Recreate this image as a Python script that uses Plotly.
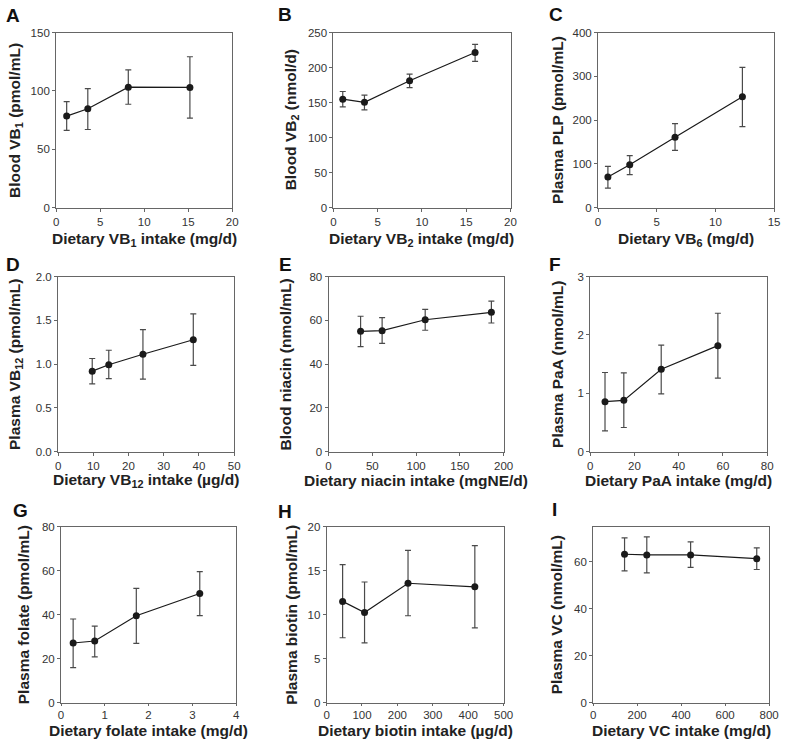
import plotly.graph_objects as go

# ---------------- data ----------------
a_x = [1.2, 3.6, 8.2, 15.2]
a_y = [78.5, 84.7, 103.2, 103.0]
a_hi = [90.8, 102.0, 118.0, 129.3]
a_lo = [66.2, 67.0, 88.6, 76.8]

b_x = [1.05, 3.5, 8.6, 16.0]
b_y = [155.0, 150.5, 181.3, 221.5]
b_hi = [165.9, 160.7, 190.7, 233.2]
b_lo = [143.9, 139.7, 171.5, 208.9]

c_x = [0.84, 2.7, 6.56, 12.3]
c_y = [70.3, 97.9, 160.7, 253.4]
c_hi = [94.2, 118.9, 192.1, 320.7]
c_lo = [44.9, 75.5, 130.8, 185.4]

d_x = [9.7, 14.4, 24.1, 38.4]
d_y = [0.92, 0.994, 1.113, 1.279]
d_hi = [1.065, 1.159, 1.394, 1.574]
d_lo = [0.774, 0.834, 0.83, 0.987]

e_x = [36.6, 61.2, 110.4, 186.0]
e_y = [55.0, 55.3, 60.3, 63.7]
e_hi = [61.9, 61.3, 65.0, 68.8]
e_lo = [48.0, 49.5, 55.5, 58.8]

f_x = [6.7, 15.2, 32.1, 57.7]
f_y = [0.858, 0.88, 1.413, 1.817]
f_hi = [1.357, 1.35, 1.828, 2.372]
f_lo = [0.359, 0.415, 0.993, 1.262]

g_x = [0.277, 0.77, 1.72, 3.17]
g_y = [27.1, 28.0, 39.5, 49.6]
g_hi = [38.0, 34.8, 51.9, 59.5]
g_lo = [15.9, 20.8, 26.9, 39.5]

h_x = [45.3, 107.2, 230.0, 418.7]
h_y = [11.5, 10.24, 13.56, 13.15]
h_hi = [15.68, 13.7, 17.3, 17.84]
h_lo = [7.37, 6.8, 9.87, 8.49]

i_x = [142.8, 243.9, 443.0, 743.5]
i_y = [63.2, 62.9, 62.9, 61.3]
i_hi = [70.2, 70.6, 68.5, 65.9]
i_lo = [56.1, 55.3, 57.6, 56.7]

panel_letters = ["A", "B", "C", "D", "E", "F", "G", "H", "I"]
x_titles = [
    "Dietary VB<sub>1</sub> intake (mg/d)",
    "Dietary VB<sub>2</sub> intake (mg/d)",
    "Dietary VB<sub>6</sub> (mg/d)",
    "Dietary VB<sub>12</sub> intake (µg/d)",
    "Dietary niacin intake (mgNE/d)",
    "Dietary PaA intake (mg/d)",
    "Dietary folate intake (mg/d)",
    "Dietary biotin intake (µg/d)",
    "Dietary VC intake (mg/d)",
]
y_titles = [
    "Blood VB<sub>1</sub> (pmol/mL)",
    "Blood VB<sub>2</sub> (nmol/d)",
    "Plasma PLP (pmol/mL)",
    "Plasma VB<sub>12</sub> (pmol/mL)",
    "Blood niacin (nmol/mL)",
    "Plasma PaA (nmol/mL)",
    "Plasma folate (pmol/mL)",
    "Plasma biotin (pmol/mL)",
    "Plasma VC (nmol/mL)",
]
x_ranges = [[0, 20], [0, 20], [0, 15], [0, 50], [0, 200], [0, 80], [0, 4], [0, 500], [0, 800]]
x_dticks = [5, 5, 5, 10, 50, 20, 1, 100, 200]
y_ranges = [[0, 150], [0, 250], [0, 400], [0, 2], [0, 80], [0, 3], [0, 80], [0, 20], [0, 75]]
y_dticks = [50, 50, 100, 0.5, 20, 1, 20, 5, 20]
y_formats = ["", "", "", ".1f", "", "", "", "", ""]

panels = [
    (a_x, a_y, a_hi, a_lo), (b_x, b_y, b_hi, b_lo), (c_x, c_y, c_hi, c_lo),
    (d_x, d_y, d_hi, d_lo), (e_x, e_y, e_hi, e_lo), (f_x, f_y, f_hi, f_lo),
    (g_x, g_y, g_hi, g_lo), (h_x, h_y, h_hi, h_lo), (i_x, i_y, i_hi, i_lo),
]

# ---------------- layout geometry (pixels) ----------------
W, H = 790, 750
FONT = "Liberation Sans, Arial, Helvetica, sans-serif"
box_x = [(54, 233), (336, 516), (605, 784),
         (56, 235), (331, 509), (597, 777),
         (59, 237), (329, 509), (600, 779)]
box_y = [(27, 205), (27, 205), (27, 205),
         (275, 453), (275, 453), (275, 453),
         (529, 708), (529, 708), (529, 708)]
ytitle_x = [12, 293, 563, 12, 287, 563, 21, 293, 563]
xtitle_y = [237, 237, 237, 482, 482, 482, 736, 736, 736]
x_ticklen = [3, 3, 3, 3, 3, 3, 2, 2, 2]
letter_pos = [(10, 10), (287, 9), (562, 9),
              (10, 263), (287, 263), (561, 263),
              (18, 513), (287, 514), (561, 512)]


def px(v):
    return v / W


def py(v):
    return 1 - v / H


fig = go.Figure()
layout = dict(
    width=W, height=H,
    margin=dict(l=0, r=0, t=0, b=0),
    paper_bgcolor="white", plot_bgcolor="white",
    showlegend=False,
    font=dict(family=FONT, color="#333333"),
)
annotations = []
axis_color = "#666666"

for k, (xs, ys, hi, lo) in enumerate(panels):
    n = "" if k == 0 else str(k + 1)
    fig.add_trace(go.Scatter(
        x=xs, y=ys, mode="lines+markers",
        xaxis="x" + n, yaxis="y" + n,
        line=dict(color="#1a1a1a", width=1.2),
        marker=dict(color="#1a1a1a", size=7),
        error_y=dict(
            type="data", symmetric=False,
            array=[h - m for h, m in zip(hi, ys)],
            arrayminus=[m - l for m, l in zip(ys, lo)],
            color="#4a4a4a", thickness=1.2, width=3,
        ),
        cliponaxis=False,
    ))
    x0, x1 = box_x[k]
    y0, y1 = box_y[k]
    common = dict(
        showgrid=False, zeroline=False, showline=True, mirror=True,
        linecolor=axis_color, linewidth=1,
        ticks="outside", tickcolor=axis_color, tickwidth=1,
        tickfont=dict(family=FONT, size=11.5, color="#333333"),
        fixedrange=True,
    )
    layout["xaxis" + n] = dict(
        common, domain=[px(x0), px(x1)], anchor="y" + n,
        range=x_ranges[k], dtick=x_dticks[k], tick0=0, ticklen=x_ticklen[k],
    )
    layout["yaxis" + n] = dict(
        common, domain=[py(y1), py(y0)], anchor="x" + n,
        range=y_ranges[k], dtick=y_dticks[k], tick0=0, ticklen=3,
        tickformat=y_formats[k],
    )
    annotations.append(dict(
        text="<b>" + x_titles[k] + "</b>", xref="paper", yref="paper",
        x=px((x0 + x1) / 2), y=py(xtitle_y[k]),
        xanchor="center", yanchor="middle", showarrow=False,
        font=dict(family=FONT, size=15.5, color="#222222"),
    ))
    annotations.append(dict(
        text="<b>" + y_titles[k] + "</b>", xref="paper", yref="paper",
        x=px(ytitle_x[k]), y=py((y0 + y1) / 2), textangle=-90,
        xanchor="center", yanchor="middle", showarrow=False,
        font=dict(family=FONT, size=15.5, color="#222222"),
    ))
    lx, ly = letter_pos[k]
    annotations.append(dict(
        text="<b>" + panel_letters[k] + "</b>", xref="paper", yref="paper",
        x=px(lx), y=py(ly), xanchor="center", yanchor="middle",
        showarrow=False,
        font=dict(family=FONT, size=19, color="#111111"),
    ))

layout["annotations"] = annotations
fig.update_layout(**layout)
fig.write_html(
    "out.html",
    config={"displayModeBar": False},
    post_script="document.body.style.margin='0';document.body.style.overflow='hidden';",
)
